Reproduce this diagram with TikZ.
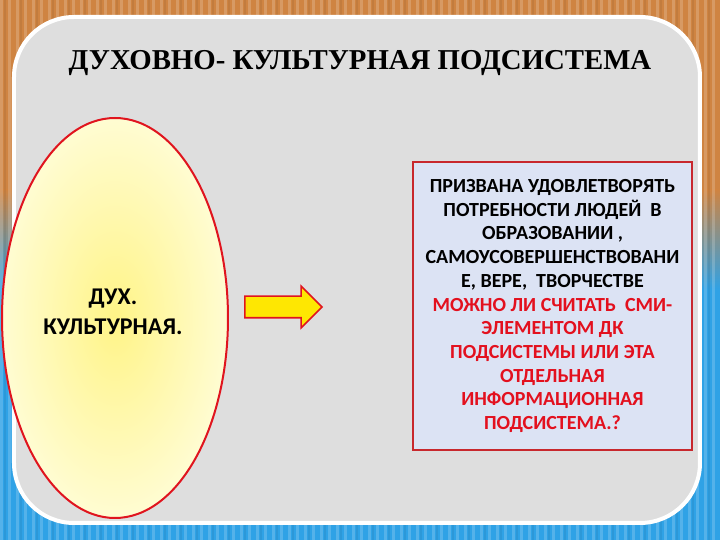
\documentclass[tikz,border=0pt]{standalone}
\usepackage{fontspec}
\setmainfont{Liberation Serif}
\newfontfamily\calfont{Carlito}
\usetikzlibrary{shapes.geometric,shapes.arrows,positioning}

\definecolor{woodorange}{HTML}{CF8442}
\definecolor{stripeblue}{HTML}{2FA2E6}
\definecolor{panelgray}{HTML}{DEDEDE}
\definecolor{ovalred}{HTML}{E0141E}
\definecolor{ovalin}{HTML}{FFF487}
\definecolor{ovalout}{HTML}{FFFCD2}
\definecolor{boxred}{HTML}{C8282D}
\definecolor{boxfill}{HTML}{DCE3F4}
\definecolor{askred}{HTML}{E3101E}

\newcommand{\ask}[1]{\textcolor{askred}{#1}}

\tikzset{
  panel/.style={fill=panelgray,draw=white,line width=2pt,rounded corners=30pt},
  ovalbox/.style={ellipse,draw=ovalred,line width=1pt,inner color=ovalin,outer color=ovalout,
    minimum width=113pt,minimum height=200pt,inner sep=0pt},
  ovaltext/.style={align=center,font=\calfont\bfseries\fontsize{12}{15}\selectfont},
  blockarrow/.style={single arrow,draw=ovalred,fill=yellow!90!orange,line width=0.8pt,
    minimum height=38.5pt,inner xsep=0pt,inner ysep=5pt,single arrow head extend=5pt},
  infobox/.style={rectangle,draw=boxred,fill=boxfill,line width=1pt,
    minimum width=139.5pt,minimum height=144pt,align=center,
    font=\calfont\bfseries\fontsize{10}{11.85}\selectfont},
}

\begin{document}
\begin{tikzpicture}[x=0.5pt,y=-0.5pt]
\useasboundingbox (0,0) rectangle (720,540);
% striped background
\fill[woodorange] (0,0) rectangle (720,190);
\shade[top color=woodorange,bottom color=stripeblue] (0,190) rectangle (720,290);
\fill[stripeblue] (0,290) rectangle (720,540);
\foreach \x in {0,8,...,720}
  \fill[white,opacity=0.18] (\x,0) rectangle ++(3,540);
\foreach \x in {4,20,...,720}
  \fill[black,opacity=0.06] (\x,0) rectangle ++(2,540);

% panel
\draw[panel] (14,17) rectangle (700,523);

\node[font=\bfseries\fontsize{14.4}{16}\selectfont] (title) at (360,63)
  {ДУХОВНО- КУЛЬТУРНАЯ ПОДСИСТЕМА};

\node[ovalbox] (oval) at (115,318) {};
\node[ovaltext] (ovaltxt) at (113,312) {ДУХ.\\КУЛЬТУРНАЯ.};

\node[blockarrow] (arr) at (278,307) {};

\node[infobox] (info) at (552.5,306) {ПРИЗВАНА УДОВЛЕТВОРЯТЬ\\
  ПОТРЕБНОСТИ ЛЮДЕЙ\ \ В\\
  ОБРАЗОВАНИИ ,\\
  САМОУСОВЕРШЕНСТВОВАНИ\\
  Е, ВЕРЕ,\ \ ТВОРЧЕСТВЕ\\
  \ask{МОЖНО ЛИ СЧИТАТЬ\ \ СМИ-}\\
  \ask{ЭЛЕМЕНТОМ ДК}\\
  \ask{ПОДСИСТЕМЫ ИЛИ ЭТА}\\
  \ask{ОТДЕЛЬНАЯ}\\
  \ask{ИНФОРМАЦИОННАЯ}\\
  \ask{ПОДСИСТЕМА.?}};
\end{tikzpicture}
\end{document}
